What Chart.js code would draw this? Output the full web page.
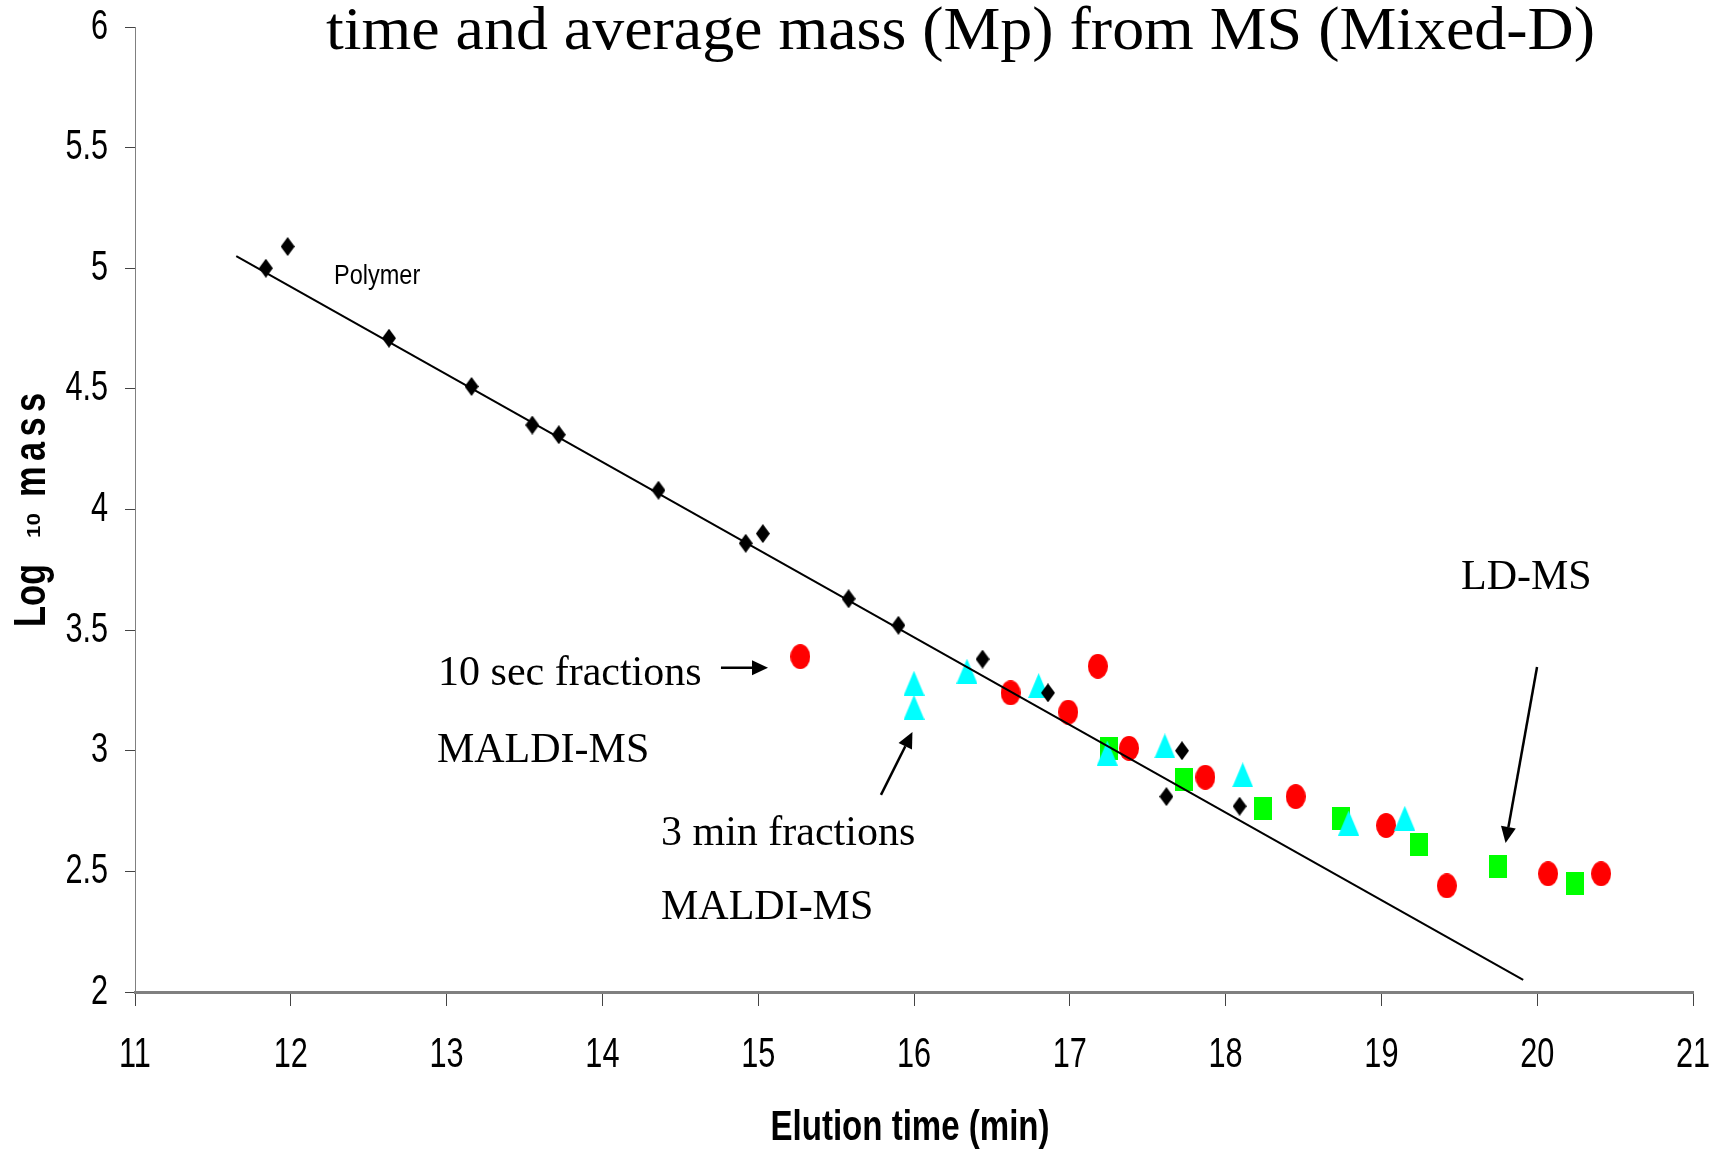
<!DOCTYPE html>
<html>
<head>
<meta charset="utf-8">
<script src="https://cdn.jsdelivr.net/npm/chart.js@4.4.1/dist/chart.umd.min.js"></script>
<style>
  html, body { margin: 0; padding: 0; background: #ffffff; }
  #wrap { width: 1712px; height: 1152px; }
</style>
</head>
<body>
<div id="wrap"><canvas id="c" width="1712" height="1152"></canvas></div>
<script>
// ---------------- data ----------------
const polymerTime    = [11.84, 11.98, 12.63, 13.16, 13.55, 13.72, 14.36, 14.92, 15.03, 15.58, 15.90, 16.44, 16.86, 17.72, 17.62, 18.09];
const polymerLogMass = [5.00, 5.09, 4.71, 4.51, 4.35, 4.31, 4.08, 3.86, 3.90, 3.63, 3.52, 3.38, 3.24, 3.00, 2.81, 2.77];

const fitLineTime    = [11.65, 19.91];
const fitLineLogMass = [5.05, 2.05];

const tenSecTime     = [15.27, 16.62, 16.99, 17.18, 17.38, 17.87, 18.45, 19.03, 19.42, 20.07, 20.41];
const tenSecLogMass  = [3.39, 3.24, 3.16, 3.35, 3.01, 2.89, 2.81, 2.69, 2.44, 2.49, 2.49];

const threeMinTime    = [16.00, 16.00, 16.34, 16.80, 17.24, 17.61, 18.11, 18.79, 19.15];
const threeMinLogMass = [3.28, 3.18, 3.33, 3.27, 2.99, 3.02, 2.90, 2.70, 2.72];

const ldmsTime    = [17.25, 17.73, 18.24, 18.74, 19.24, 19.75, 20.24];
const ldmsLogMass = [3.01, 2.88, 2.76, 2.72, 2.61, 2.52, 2.45];

const xTickLabels = ['11','12','13','14','15','16','17','18','19','20','21'];
const yTickLabels = ['2','2.5','3','3.5','4','4.5','5','5.5','6'];

const titleText = 'time and average mass (Mp) from MS (Mixed-D)';
const xTitleText = 'Elution time (min)';
const annotationLabels = ['Polymer', '10 sec fractions', 'MALDI-MS', '3 min fractions', 'MALDI-MS', 'LD-MS'];

// ---------------- layout / style (not data) ----------------
const SANS = '"Liberation Sans", Arial, sans-serif';
const SERIF = '"Liberation Serif", "Times New Roman", serif';
const NARROW_RATIO = 0.73;

const annotationPlacement = [
  { x: 12.277, y: 4.968, font: '28px ' + SANS, sx: 0.84 },
  { x: 12.945, y: 3.318, font: '42px ' + SERIF, sx: 1 },
  { x: 12.938, y: 2.999, font: '42px ' + SERIF, sx: 1 },
  { x: 14.376, y: 2.655, font: '42px ' + SERIF, sx: 1 },
  { x: 14.376, y: 2.348, font: '42px ' + SERIF, sx: 1 },
  { x: 19.511, y: 3.716, font: '42px ' + SERIF, sx: 1 }
];
const arrowPlacement = [
  { from: [14.761, 3.344], to: [15.063, 3.344] },
  { from: [15.788, 2.817], to: [15.990, 3.078] },
  { from: [19.999, 3.347], to: [19.797, 2.618] }
];

function toPoints(xs, ys) { return xs.map((x, i) => ({ x: x, y: ys[i] })); }

function shapeCanvas(w, h, color, kind) {
  const c = document.createElement('canvas');
  c.width = w; c.height = h;
  const g = c.getContext('2d');
  g.fillStyle = color;
  g.beginPath();
  if (kind === 'ellipse') {
    g.ellipse(w / 2, h / 2, w / 2, h / 2, 0, 0, Math.PI * 2);
  } else if (kind === 'triangle') {
    g.moveTo(w / 2, 0); g.lineTo(w, h); g.lineTo(0, h); g.closePath();
  } else if (kind === 'rect') {
    g.rect(0, 0, w, h);
  } else if (kind === 'diamond') {
    g.moveTo(w / 2, 0); g.lineTo(w, h / 2); g.lineTo(w / 2, h); g.lineTo(0, h / 2); g.closePath();
  }
  g.fill();
  return c;
}

const diamondImg  = shapeCanvas(14, 19, '#000000', 'diamond');
const circleImg   = shapeCanvas(20, 25, '#ff0000', 'ellipse');
const triangleImg = shapeCanvas(21, 25, '#00ffff', 'triangle');
const squareImg   = shapeCanvas(18, 23, '#00ff00', 'rect');

const overlayPlugin = {
  id: 'overlay',
  beforeDraw(chart) {
    // condense the library's own tick labels (narrow look of the original)
    const ctx = chart.ctx;
    ['x', 'y'].forEach(id => {
      const s = chart.scales[id];
      const items = s.getLabelItems(chart.chartArea);
      items.forEach(it => {
        ctx.save();
        ctx.font = it.font.string;
        const w = ctx.measureText(String(it.label)).width;
        ctx.restore();
        it.options.maxWidth = w * NARROW_RATIO;
      });
    });
  },
  afterDatasetsDraw(chart) {
    const ctx = chart.ctx;
    const xs = chart.scales.x, ys = chart.scales.y;
    ctx.save();
    ctx.fillStyle = '#000';
    ctx.textAlign = 'left';
    ctx.textBaseline = 'middle';
    annotationLabels.forEach((t, i) => {
      const p = annotationPlacement[i];
      ctx.save();
      ctx.font = p.font;
      ctx.translate(xs.getPixelForValue(p.x), ys.getPixelForValue(p.y));
      ctx.scale(p.sx, 1);
      ctx.fillText(t, 0, 0);
      ctx.restore();
    });
    // arrows
    ctx.strokeStyle = '#000';
    ctx.lineWidth = 2.5;
    arrowPlacement.forEach(a => {
      const x1 = xs.getPixelForValue(a.from[0]), y1 = ys.getPixelForValue(a.from[1]);
      const x2 = xs.getPixelForValue(a.to[0]),   y2 = ys.getPixelForValue(a.to[1]);
      const ang = Math.atan2(y2 - y1, x2 - x1);
      const L = 16, W = 7.5;
      const bx = x2 - L * Math.cos(ang), by = y2 - L * Math.sin(ang);
      ctx.beginPath(); ctx.moveTo(x1, y1); ctx.lineTo(bx, by); ctx.stroke();
      ctx.beginPath();
      ctx.moveTo(x2, y2);
      ctx.lineTo(bx + W * Math.sin(ang), by - W * Math.cos(ang));
      ctx.lineTo(bx - W * Math.sin(ang), by + W * Math.cos(ang));
      ctx.closePath(); ctx.fill();
    });
    ctx.restore();
  },
  afterDraw(chart) {
    const ctx = chart.ctx;
    const area = chart.chartArea;
    // title
    ctx.save();
    ctx.fillStyle = '#000';
    ctx.font = '62px ' + SERIF;
    ctx.textBaseline = 'alphabetic';
    ctx.textAlign = 'left';
    const tw = ctx.measureText(titleText).width;
    ctx.translate(326, 49);
    ctx.scale(1269 / tw, 1);
    ctx.fillText(titleText, 0, 0);
    ctx.restore();

    // x axis title
    ctx.save();
    ctx.fillStyle = '#000';
    ctx.font = 'bold 42px ' + SANS;
    ctx.textBaseline = 'middle';
    ctx.textAlign = 'center';
    const xw = ctx.measureText(xTitleText).width;
    ctx.translate((area.left + area.right) / 2 - 4, 1128);
    ctx.scale(279 / xw, 1);
    ctx.fillText(xTitleText, 0, 0);
    ctx.restore();

    // y axis title: "Log 10 mass"
    ctx.save();
    ctx.translate(45, 510);
    ctx.rotate(-Math.PI / 2);
    ctx.fillStyle = '#000';
    ctx.textBaseline = 'alphabetic';
    ctx.textAlign = 'left';
    const sq = 0.78;
    ctx.font = 'bold 44px ' + SANS;
    ctx.save(); ctx.translate(-117, 0); ctx.scale(sq, 1); ctx.fillText('Log', 0, 0); ctx.restore();
    ctx.font = 'bold 19px ' + SANS;
    const tenW = ctx.measureText('10').width;
    ctx.save(); ctx.translate(-28, -5); ctx.scale(25 / tenW, 1); ctx.fillText('10', 0, 0); ctx.restore();
    ctx.font = 'bold 44px ' + SANS;
    const letters = ['m', 'a', 's', 's'];
    const lw = letters.map(l => ctx.measureText(l).width * sq);
    const gap = (104 - lw.reduce((a, b) => a + b, 0)) / (letters.length - 1);
    let px = 13;
    letters.forEach((l, i) => {
      ctx.save(); ctx.translate(px, 0); ctx.scale(sq, 1); ctx.fillText(l, 0, 0); ctx.restore();
      px += lw[i] + gap;
    });
    ctx.restore();
  }
};

const tickFont = { family: SANS, size: 42 };

new Chart(document.getElementById('c'), {
  type: 'scatter',
  data: {
    datasets: [
      { label: 'fit', type: 'line', data: toPoints(fitLineTime, fitLineLogMass), borderColor: '#000', borderWidth: 2, pointRadius: 0, fill: false, order: 0 },
      { label: 'Polymer', data: toPoints(polymerTime, polymerLogMass), pointStyle: diamondImg, pointRadius: 8, order: 1 },
      { label: '3 min fractions', data: toPoints(threeMinTime, threeMinLogMass), pointStyle: triangleImg, pointRadius: 10, order: 2 },
      { label: 'LD-MS', data: toPoints(ldmsTime, ldmsLogMass), pointStyle: squareImg, pointRadius: 10, order: 3 },
      { label: '10 sec fractions', data: toPoints(tenSecTime, tenSecLogMass), pointStyle: circleImg, pointRadius: 10, order: 4 }
    ]
  },
  options: {
    responsive: false,
    animation: false,
    events: [],
    layout: { autoPadding: false, padding: { top: 27, right: 19, left: 0, bottom: 0 } },
    plugins: { legend: { display: false }, tooltip: { enabled: false }, title: { display: false } },
    scales: {
      x: {
        type: 'linear', min: 11, max: 21,
        afterFit(s) { s.height = 160; s.paddingLeft = 0; s.paddingRight = 0; s.paddingTop = 0; s.paddingBottom = 0; },
        border: { display: true, color: '#808080', width: 3 },
        grid: { drawOnChartArea: false, drawTicks: true, tickLength: 14, color: '#444', lineWidth: 1 },
        ticks: { stepSize: 1, color: '#000', font: tickFont, padding: 24, maxRotation: 0, minRotation: 0, autoSkip: false,
          callback: (v) => xTickLabels[Math.round(v - 11)] },
        title: { display: false }
      },
      y: {
        type: 'linear', min: 2, max: 6,
        afterFit(s) { s.width = 135; s.paddingLeft = 0; s.paddingRight = 0; s.paddingTop = 0; s.paddingBottom = 0; },
        border: { display: true, color: '#808080', width: 1 },
        grid: { drawOnChartArea: false, drawTicks: true, tickLength: 10, color: '#444', lineWidth: 1 },
        ticks: { stepSize: 0.5, color: '#000', font: tickFont, padding: 17, autoSkip: false,
          callback: (v) => yTickLabels[Math.round((v - 2) * 2)] },
        title: { display: false }
      }
    }
  },
  plugins: [overlayPlugin]
});
</script>
</body>
</html>
